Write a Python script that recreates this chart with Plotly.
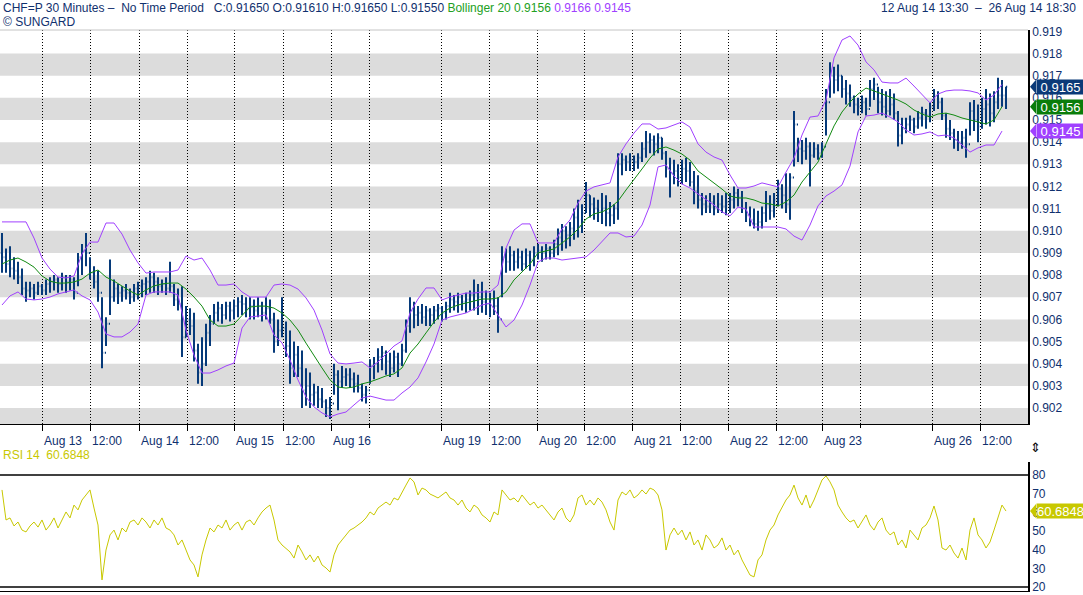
import plotly.graph_objects as go

# ---------------- data ----------------
high = [
    .9099,.9092,.9093,.9088,.9086,.9083,.9077,.9077,.9076,.9077,.9076,.9078,.9079,.9080,.9079,.9081,.9080,.9080,.9079,.9090,.9094,.9099,.9088,.9084,.9082,
    .9070,.9061,.9087,.9078,.9076,.9075,.9076,.9074,.9076,.9077,.9078,.9079,.9082,.9081,.9079,.9078,.9079,.9086,.9076,.9074,.9075,.9066,.9065,.9063,.9049,
    .9052,.9058,.9062,.9067,.9068,.9067,.9068,.9068,.9069,.9070,.9071,.9070,.9070,.9069,.9070,.9068,.9070,.9069,.9063,.9060,.9070,.9059,.9055,.9050,.9048,
    .9046,.9038,.9036,.9031,.9030,.9029,.9024,.9025,.9040,.9037,.9039,.9038,.9038,.9036,.9035,.9031,.9030,.9042,.9043,.9047,.9048,.9046,.9045,.9046,.9045,
    .9049,.9060,.9070,.9068,.9066,.9067,.9066,.9065,.9066,.9067,.9066,.9068,.9072,.9071,.9072,.9071,.9072,.9073,.9078,.9076,.9077,.9073,.9072,.9073,.9070,
    .9093,.9092,.9093,.9091,.9092,.9091,.9092,.9091,.9093,.9094,.9093,.9094,.9093,.9096,.9101,.9103,.9102,.9104,.9110,.9114,.9112,.9122,.9116,.9115,.9114,
    .9117,.9116,.9113,.9112,.9135,.9135,.9134,.9135,.9134,.9135,.9140,.9145,.9144,.9143,.9144,.9142,.9136,.9133,.9132,.9130,.9132,.9133,.9131,.9127,.9125,
    .9117,.9116,.9117,.9116,.9117,.9116,.9117,.9117,.9120,.9119,.9118,.9113,.9111,.9110,.9109,.9111,.9118,.9116,.9117,.9123,.9121,.9126,.9126,.9154,.9142,
    .9141,.9142,.9140,.9140,.9139,.9140,.9164,.9176,.9174,.9175,.9170,.9168,.9166,.9161,.9160,.9161,.9160,.9168,.9169,.9165,.9164,.9163,.9164,.9162,.9154,
    .9151,.9151,.9152,.9151,.9154,.9156,.9155,.9158,.9164,.9163,.9160,.9153,.9150,.9146,.9145,.9145,.9146,.9158,.9159,.9157,.9160,.9164,.9162,.9163,.9169,.9168,.9165,
]
low = [
    .9081,.9081,.9079,.9078,.9076,.9071,.9068,.9070,.9069,.9071,.9071,.9071,.9072,.9073,.9072,.9073,.9072,.9073,.9069,.9075,.9080,.9084,.9078,.9074,.9068,
    .9038,.9048,.9062,.9068,.9067,.9068,.9069,.9067,.9068,.9069,.9070,.9071,.9072,.9072,.9071,.9072,.9071,.9072,.9066,.9064,.9043,.9052,.9053,.9041,.9031,
    .9030,.9039,.9048,.9058,.9059,.9058,.9060,.9059,.9060,.9061,.9062,.9061,.9060,.9060,.9061,.9059,.9060,.9058,.9045,.9048,.9052,.9043,.9031,.9034,.9034,
    .9020,.9021,.9020,.9021,.9020,.9020,.9016,.9015,.9026,.9019,.9029,.9030,.9029,.9027,.9027,.9023,.9022,.9031,.9033,.9036,.9037,.9035,.9034,.9036,.9034,
    .9039,.9045,.9054,.9056,.9057,.9058,.9057,.9057,.9058,.9060,.9059,.9060,.9063,.9064,.9063,.9064,.9063,.9064,.9064,.9062,.9063,.9062,.9061,.9062,.9054,
    .9070,.9081,.9082,.9082,.9083,.9082,.9083,.9082,.9084,.9087,.9086,.9087,.9087,.9088,.9089,.9091,.9092,.9093,.9096,.9097,.9099,.9108,.9106,.9105,.9104,
    .9103,.9102,.9102,.9103,.9105,.9125,.9127,.9127,.9127,.9128,.9131,.9133,.9135,.9134,.9135,.9132,.9124,.9115,.9121,.9120,.9121,.9122,.9120,.9112,.9110,
    .9107,.9108,.9108,.9107,.9108,.9108,.9107,.9108,.9110,.9111,.9108,.9104,.9102,.9101,.9100,.9101,.9104,.9105,.9106,.9111,.9110,.9108,.9105,.9129,.9131,
    .9130,.9132,.9120,.9133,.9132,.9133,.9143,.9160,.9162,.9163,.9160,.9157,.9156,.9153,.9152,.9153,.9152,.9156,.9159,.9153,.9152,.9151,.9152,.9150,.9138,
    .9139,.9144,.9145,.9144,.9146,.9147,.9146,.9149,.9154,.9155,.9150,.9142,.9141,.9137,.9136,.9137,.9133,.9143,.9145,.9140,.9146,.9148,.9147,.9149,.9155,.9156,.9155,
]
close = [
    .9088,.9085,.9083,.9082,.9079,.9074,.9073,.9074,.9072,.9075,.9073,.9076,.9077,.9078,.9076,.9079,.9077,.9078,.9072,.9088,.9091,.9090,.9081,.9077,.9072,
    .9045,.9058,.9070,.9074,.9072,.9073,.9072,.9070,.9074,.9075,.9076,.9077,.9079,.9077,.9075,.9076,.9074,.9075,.9069,.9067,.9052,.9060,.9057,.9046,.9036,
    .9040,.9054,.9058,.9063,.9065,.9062,.9066,.9064,.9066,.9068,.9067,.9065,.9066,.9064,.9066,.9063,.9065,.9060,.9050,.9055,.9056,.9048,.9038,.9044,.9038,
    .9028,.9030,.9026,.9027,.9024,.9023,.9020,.9022,.9035,.9032,.9034,.9035,.9033,.9031,.9029,.9026,.9028,.9039,.9040,.9043,.9045,.9041,.9038,.9043,.9040,
    .9046,.9057,.9064,.9062,.9063,.9061,.9064,.9062,.9064,.9065,.9063,.9066,.9069,.9068,.9070,.9068,.9069,.9071,.9072,.9070,.9068,.9067,.9069,.9066,.9060,
    .9088,.9086,.9089,.9086,.9088,.9085,.9089,.9087,.9090,.9091,.9090,.9092,.9090,.9094,.9097,.9100,.9098,.9101,.9106,.9102,.9108,.9116,.9112,.9110,.9109,
    .9110,.9108,.9107,.9110,.9130,.9132,.9131,.9132,.9131,.9133,.9137,.9140,.9141,.9139,.9142,.9135,.9128,.9126,.9127,.9124,.9128,.9127,.9122,.9118,.9114,
    .9112,.9111,.9113,.9110,.9112,.9111,.9113,.9114,.9117,.9115,.9110,.9107,.9105,.9103,.9104,.9108,.9112,.9109,.9114,.9119,.9116,.9112,.9124,.9148,.9137,
    .9136,.9138,.9134,.9137,.9135,.9138,.9158,.9170,.9168,.9170,.9164,.9162,.9160,.9157,.9156,.9158,.9155,.9164,.9166,.9158,.9156,.9154,.9157,.9153,.9143,
    .9146,.9148,.9150,.9147,.9151,.9153,.9152,.9156,.9161,.9158,.9152,.9146,.9144,.9141,.9140,.9142,.9139,.9154,.9150,.9147,.9155,.9157,.9153,.9158,.9161,.9161,.9165,
]
first_open = 0.9090

# Bollinger (20) bands, read every second bar
bb_upper = [
    .91040,.91040,.91040,.91040,.90967,.90877,.90827,.90791,.90787,.90796,
    .90895,.90949,.90949,.91035,.91035,.90985,.90913,.90855,.90809,.90814,
    .90814,.90814,.90823,.90886,.90868,.90877,.90823,.90755,.90755,.90760,
    .90724,.90701,.90701,.90701,.90755,.90760,.90755,.90737,.90697,.90642,
    .90552,.90444,.90403,.90399,.90403,.90408,.90381,.90408,.90444,.90480,
    .90503,.90629,.90692,.90742,.90742,.90688,.90701,.90710,.90719,.90719,
    .90724,.90724,.90755,.90922,.91003,.91031,.91031,.90945,.90945,.90945,
    .91008,.91049,.91125,.91179,.91198,.91207,.91216,.91333,.91392,.91441,
    .91482,.91482,.91459,.91464,.91477,.91491,.91468,.91392,.91355,.91333,
    .91319,.91252,.91193,.91193,.91202,.91216,.91207,.91198,.91265,.91328,
    .91432,.91513,.91518,.91590,.91780,.91861,.91879,.91838,.91762,.91726,
    .91671,.91667,.91667,.91689,.91653,.91613,.91577,.91617,.91631,.91635,
    .91635,.91631,.91622,.91590,.91613,.91660,
]
bb_middle = [
    .90850,.90868,.90877,.90859,.90836,.90796,.90773,.90764,.90764,.90769,
    .90782,.90809,.90823,.90791,.90773,.90751,.90728,.90710,.90733,.90751,
    .90760,.90764,.90764,.90737,.90701,.90660,.90597,.90570,.90570,.90579,
    .90620,.90656,.90660,.90660,.90651,.90629,.90597,.90552,.90493,.90435,
    .90381,.90327,.90295,.90290,.90295,.90309,.90318,.90331,.90345,.90354,
    .90381,.90448,.90489,.90539,.90588,.90629,.90651,.90665,.90674,.90683,
    .90692,.90692,.90697,.90724,.90778,.90814,.90850,.90900,.90909,.90918,
    .90945,.90972,.91008,.91053,.91076,.91085,.91103,.91134,.91184,.91234,
    .91279,.91328,.91369,.91378,.91364,.91346,.91319,.91270,.91243,.91216,
    .91188,.91157,.91148,.91148,.91139,.91125,.91121,.91112,.91130,.91161,
    .91220,.91265,.91310,.91392,.91473,.91536,.91581,.91617,.91644,.91631,
    .91617,.91604,.91590,.91572,.91545,.91527,.91513,.91527,.91531,.91522,
    .91509,.91500,.91491,.91482,.91500,.91560,
]
bb_lower = [
    .90665,.90706,.90724,.90692,.90688,.90692,.90701,.90715,.90724,.90733,
    .90706,.90688,.90633,.90534,.90521,.90521,.90543,.90579,.90710,.90724,
    .90724,.90724,.90710,.90552,.90439,.90358,.90358,.90372,.90390,.90403,
    .90561,.90611,.90615,.90620,.90530,.90494,.90417,.90327,.90250,.90205,
    .90178,.90160,.90173,.90182,.90214,.90245,.90254,.90245,.90236,.90236,
    .90268,.90295,.90336,.90408,.90489,.90597,.90611,.90620,.90629,.90647,
    .90665,.90674,.90620,.90566,.90597,.90665,.90755,.90859,.90877,.90877,
    .90868,.90873,.90877,.90882,.90913,.90954,.90990,.90990,.90972,.90976,
    .91026,.91116,.91288,.91297,.91247,.91211,.91193,.91166,.91143,.91116,
    .91085,.91067,.91107,.91098,.91017,.91017,.91017,.91017,.91008,.90976,
    .90958,.91026,.91112,.91157,.91179,.91207,.91292,.91446,.91518,.91522,
    .91531,.91513,.91491,.91455,.91432,.91437,.91446,.91428,.91432,.91419,
    .91387,.91355,.91374,.91387,.91387,.91450,
]
# RSI (14), one value per bar
rsi = [
    72.0,55.9,57.0,52.7,54.8,50.5,49.5,52.7,54.8,52.1,55.9,50.5,53.2,57.0,51.6,55.9,60.2,57.0,63.9,61.3,
    66.6,69.3,72.0,62.3,53.2,23.8,39.8,
    47.9,50.5,45.2,51.6,49.5,54.8,55.9,53.2,57.0,54.8,51.6,55.9,53.2,57.0,51.6,50.5,47.9,42.5,45.2,39.8,
    34.5,31.8,25.4,37.2,45.2,51.6,49.5,53.2,51.6,55.9,50.5,53.2,54.8,50.5,54.8,55.9,53.2,57.0,60.2,62.3,
    63.9,55.9,45.2,42.5,40.9,38.8,35.5,42.5,38.8,34.5,37.2,33.4,36.6,31.8,30.2,28.0,37.2,42.5,45.2,47.9,
    50.5,51.6,53.2,54.8,57.0,60.2,58.6,62.3,63.9,65.5,63.9,67.7,66.6,70.9,74.6,78.4,76.3,69.3,73.0,72.0,
    69.8,68.8,67.7,69.3,70.9,67.7,66.6,63.9,66.6,62.3,60.2,63.9,62.3,58.6,57.0,54.8,60.2,58.6,72.0,69.3,
    66.6,67.7,65.5,69.3,66.6,63.9,65.5,62.3,63.9,61.3,58.6,55.9,60.2,62.3,57.0,54.8,58.6,67.7,69.3,63.9,
    66.6,63.9,67.7,65.5,61.3,54.8,50.5,66.6,70.9,69.3,72.0,67.7,69.3,72.0,69.8,73.0,72.0,69.3,61.3,39.8,
    47.9,51.6,47.9,50.5,45.2,49.5,42.5,45.2,39.8,47.9,45.2,40.9,42.5,46.3,39.8,42.5,37.2,39.8,34.5,30.2,
    26.4,25.4,34.5,37.2,45.2,50.5,53.2,58.6,62.3,66.6,69.3,74.6,67.7,63.9,69.3,62.3,66.6,72.0,77.3,79.5,
    76.3,72.0,63.9,60.2,57.0,54.8,55.9,51.6,54.8,58.6,53.2,50.5,54.8,57.0,50.5,47.9,49.5,42.5,45.2,40.9,
    50.5,47.9,45.2,51.6,53.2,57.0,63.4,55.9,40.9,39.8,42.5,38.2,35.5,40.9,34.5,50.5,57.0,47.9,45.2,40.9,
    44.1,50.5,57.0,63.9,60.6848,
]

date_ticks = [10.6, 22.5, 34.75, 46.75, 58.5, 70.75, 82.75, 110.25, 122.25, 134.25,
              146.0, 158.0, 170.0, 182.0, 194.0, 205.5, 233.0, 245.0]
date_labels = ["Aug 13", "12:00", "Aug 14", "12:00", "Aug 15", "12:00", "Aug 16",
               "Aug 19", "12:00", "Aug 20", "12:00", "Aug 21", "12:00", "Aug 22",
               "12:00", "Aug 23", "Aug 26", "12:00"]
minor_ticks = [92.25, 215.0]
price_ticks = [0.902, 0.903, 0.904, 0.905, 0.906, 0.907, 0.908, 0.909, 0.910,
               0.911, 0.912, 0.913, 0.914, 0.915, 0.916, 0.917, 0.918, 0.919]
rsi_ticks = [20, 30, 40, 50, 60, 70, 80]

last_close = 0.9165
last_mid = 0.9156
last_lower = 0.9145
last_rsi = 60.6848

# ---------------- styling ----------------
FONT = "Liberation Sans"
NAVY = "#10306e"
BAR = "#063a7a"
PURPLE = "#a040ff"
GREEN = "#118a11"
YELLOW = "#c8c800"
BAND = "#dcdcdc"

bar_x = [i + 0.5 for i in range(len(high))]
bb_x = bar_x[::2]
open_ = [first_open] + close[:-1]

fig = go.Figure()
fig.add_trace(go.Ohlc(
    x=bar_x, open=open_, high=high, low=low, close=close,
    increasing=dict(line=dict(color=BAR, width=2)),
    decreasing=dict(line=dict(color=BAR, width=2)),
    tickwidth=0.3, hoverinfo="skip", showlegend=False, xaxis="x", yaxis="y"))
for vals, col in ((bb_upper, PURPLE), (bb_lower, PURPLE), (bb_middle, GREEN)):
    fig.add_trace(go.Scatter(x=bb_x[:len(vals)], y=vals, mode="lines",
                             line=dict(color=col, width=1), hoverinfo="skip",
                             showlegend=False, xaxis="x", yaxis="y"))
fig.add_trace(go.Scatter(x=bar_x[:len(rsi)], y=rsi, mode="lines",
                         line=dict(color=YELLOW, width=1), hoverinfo="skip",
                         showlegend=False, xaxis="x2", yaxis="y2"))

Y_MIN, Y_MAX = 0.90128, 0.91906
shapes = []
# alternating grey bands
lo = 0.901
while lo < 0.918:
    shapes.append(dict(type="rect", xref="paper", yref="y", x0=0, x1=1,
                       y0=max(lo, Y_MIN), y1=lo + 0.001, fillcolor=BAND,
                       line=dict(width=0), layer="below"))
    lo = round(lo + 0.002, 3)
# top border
shapes.append(dict(type="line", xref="paper", yref="paper", x0=0, x1=1, y0=1, y1=1,
                   line=dict(color="#c4c4c4", width=1)))
# RSI 80 / 20 lines
for lvl in (80, 20):
    shapes.append(dict(type="line", xref="paper", yref="y2", x0=0, x1=1, y0=lvl, y1=lvl,
                       line=dict(color="black", width=1.5)))

annotations = []
# value tags on the right
TX0, TX1 = 1030 / 1028, 1036 / 1028
for val, col, yref, half in ((last_close, "#0b3a78", "y", 0.00032),
                             (last_mid, "#0a7d0a", "y", 0.00032),
                             (last_lower, PURPLE, "y", 0.00032),
                             (last_rsi, YELLOW, "y2", 3.8)):
    annotations.append(dict(x=TX1, y=val, xref="paper", yref=yref, text=f"{val:.4f}",
                            showarrow=False, xanchor="left", yanchor="middle",
                            bgcolor=col, font=dict(family=FONT, size=13, color="white"),
                            borderpad=0, width=47, height=14))
    shapes.append(dict(type="path", xref="paper", yref=yref,
                       path=f"M {TX0},{val} L {TX1},{val + half} L {TX1},{val - half} Z",
                       fillcolor=col, line=dict(width=0)))

# date labels (left aligned at tick)
for tv, tl in zip(date_ticks, date_labels):
    annotations.append(dict(x=tv, y=(591 - 441) / 561, xref="x", yref="paper", text=tl,
                            showarrow=False, xanchor="left", yanchor="middle",
                            font=dict(family=FONT, size=12, color=NAVY)))

sp = "\u00a0"
header = (f"CHF=P 30 Minutes –{sp}{sp}No Time Period{sp}{sp}{sp}C:0.91650 O:0.91610 "
          f"H:0.91650 L:0.91550 <span style='color:#22a022'>Bollinger 20 0.9156</span> "
          f"<span style='color:{PURPLE}'>0.9166 0.9145</span>")
annotations += [
    dict(x=0.001, y=(591 - 8) / 561, xref="paper", yref="paper", text=header,
         showarrow=False, xanchor="left", yanchor="middle",
         font=dict(family=FONT, size=12, color=NAVY)),
    dict(x=0.001, y=(591 - 22) / 561, xref="paper", yref="paper", text="© SUNGARD",
         showarrow=False, xanchor="left", yanchor="middle",
         font=dict(family=FONT, size=12, color=NAVY)),
    dict(x=1078 / 1028, y=(591 - 8) / 561, xref="paper", yref="paper",
         text=f"12 Aug 14 13:30{sp}{sp}–{sp}{sp}26 Aug 14 18:30",
         showarrow=False, xanchor="right", yanchor="middle",
         font=dict(family=FONT, size=12, color=NAVY)),
    dict(x=0.001, y=(591 - 455) / 561, xref="paper", yref="paper",
         text=f"RSI 14{sp}{sp}{last_rsi:.4f}",
         showarrow=False, xanchor="left", yanchor="middle",
         font=dict(family=FONT, size=12, color=YELLOW)),
    dict(x=1035 / 1028, y=(591 - 447) / 561, xref="paper", yref="paper", text="⇕",
         showarrow=False, xanchor="center", yanchor="middle",
         font=dict(family="DejaVu Sans", size=13, color="black")),
]

fig.update_layout(
    width=1083, height=595,
    margin=dict(l=0, r=55, t=30, b=4),
    paper_bgcolor="white", plot_bgcolor="white",
    showlegend=False,
    shapes=shapes, annotations=annotations,
    xaxis=dict(domain=[0, 1], range=[0, 257], anchor="y",
               tickmode="array", tickvals=date_ticks, showticklabels=False,
               ticks="outside", ticklen=6, tickcolor="black", tickwidth=1,
               showgrid=True, gridcolor="black", griddash="1px,2px", gridwidth=1,
               minor=dict(tickmode="array", tickvals=minor_ticks, ticks="outside",
                          ticklen=3, tickcolor="black", showgrid=True,
                          gridcolor="black", griddash="1px,2px", gridwidth=1),
               showline=True, linecolor="black", linewidth=1, zeroline=False,
               rangeslider=dict(visible=False), fixedrange=True),
    yaxis=dict(domain=[(591 - 424) / 561, 1], range=[Y_MIN, Y_MAX], anchor="x",
               side="right", tickmode="array", tickvals=price_ticks,
               ticktext=[f"{v:.3f}" for v in price_ticks],
               tickfont=dict(family=FONT, size=12, color=NAVY),
               ticks="", showgrid=False, zeroline=False,
               showline=True, linecolor="black", linewidth=1.5),
    xaxis2=dict(domain=[0, 1], range=[0, 257], anchor="y2", matches="x",
                showticklabels=False, ticks="", showgrid=False, zeroline=False,
                showline=True, linecolor="black", linewidth=1),
    yaxis2=dict(domain=[0, (591 - 462) / 561], range=[17.86, 86.96], anchor="x2",
                side="right", tickmode="array", tickvals=rsi_ticks,
                tickfont=dict(family=FONT, size=12, color=NAVY),
                ticks="", showgrid=False, zeroline=False,
                showline=True, linecolor="black", linewidth=1.5),
)

fig.write_html("out.html", config={"displayModeBar": False},
               post_script="document.body.style.margin='0';document.body.style.overflow='hidden';")
